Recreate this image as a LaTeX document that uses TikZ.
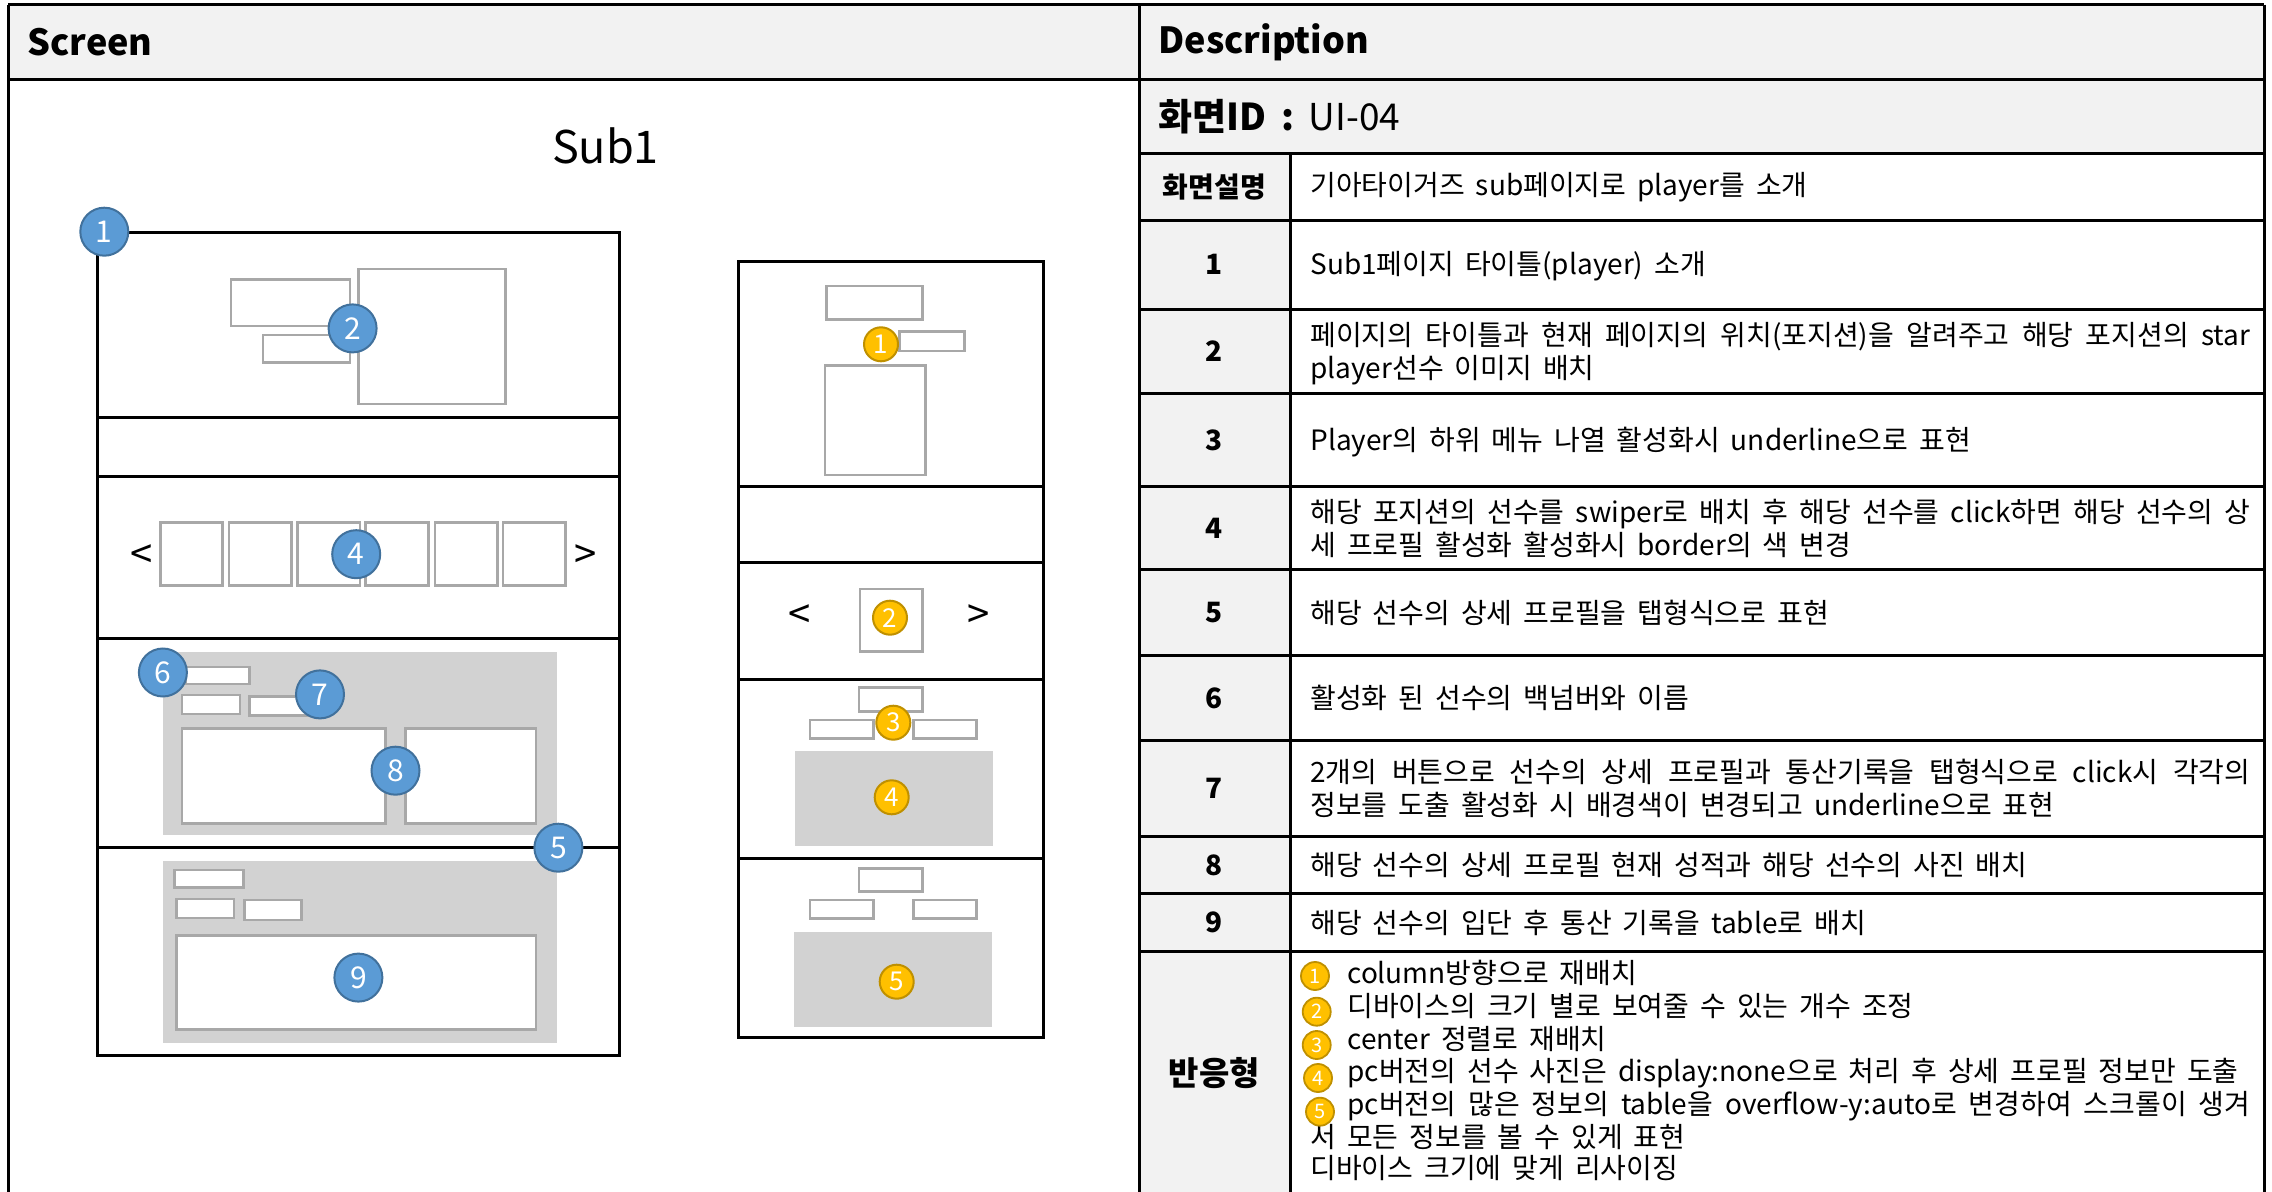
\documentclass[tikz,border=0pt]{standalone}
\usepackage{fontspec}
\setmainfont{Noto Sans CJK KR}[WordSpace=1.75]
\definecolor{hdr}{HTML}{F2F2F2}
\definecolor{boxln}{HTML}{A8A8A8}
\definecolor{panel}{HTML}{D2D2D2}
\definecolor{bluef}{HTML}{5B9BD5}
\definecolor{blued}{HTML}{41719C}
\definecolor{yelf}{HTML}{FFC000}
\definecolor{yeld}{HTML}{BF9000}
\tikzset{
  frame/.style={draw=black,line width=1.5pt},
  gbox/.style={draw=boxln,line width=1.3pt,fill=white},
  gpanel/.style={fill=panel,draw=none},
  tline/.style={draw=black,line width=1.5pt},
  bnum/.style={circle,fill=bluef,draw=blued,line width=1pt,minimum size=24pt,inner sep=0pt,text=white,font=\fontsize{15}{15}\selectfont},
  ynum/.style={circle,fill=yelf,draw=yeld,line width=1pt,minimum size=17pt,inner sep=0pt,text=white,font=\fontsize{13}{13}\selectfont},
  lnum/.style={circle,fill=yelf,draw=yeld,line width=0.9pt,minimum size=14pt,inner sep=0pt,text=white,font=\fontsize{10}{10}\selectfont},
  arrowtxt/.style={inner sep=0pt,font=\fontsize{20}{20}\selectfont},
  hdrtxt/.style={anchor=west,inner sep=0pt,font=\fontsize{18}{18}\selectfont\bfseries},
  lbl/.style={inner sep=0pt,font=\fontsize{14}{14}\selectfont\bfseries},
  body/.style={anchor=west,inner sep=0pt,align=left,font=\fontsize{14}{16.5}\selectfont},
  li/.style={anchor=west,inner sep=0pt,text height=10pt,text depth=3pt,font=\fontsize{14}{16.5}\selectfont},
}
\begin{document}
\begin{tikzpicture}[x=0.5pt,y=-0.5pt]
\useasboundingbox (0,0) rectangle (2272,1192);
% ---------- table fills ----------
\fill[hdr] (8.3,4.6) rectangle (2264,79.5);
\fill[hdr] (1139,79.5) rectangle (2264,153.7);
\fill[hdr] (1139,153.7) rectangle (1290,1192);
% ---------- table lines ----------
\draw[tline] (8.3,4.6) -- (2264,4.6);
\draw[tline] (8.3,79.5) -- (2264,79.5);
\draw[tline] (8.3,4.6) -- (8.3,1192);
\draw[tline] (1139,4.6) -- (1139,1192);
\draw[tline] (2264,4.6) -- (2264,1192);
\draw[tline] (1290,153.7) -- (1290,1192);
\foreach \yy in {153.7,220.3,309.3,393.3,486.7,569.7,655.3,740.5,836.3,893.6,951}
  \draw[tline] (1139,\yy) -- (2264,\yy);
% ---------- headers ----------
\node[hdrtxt] (hscreen) at (27,42) {Screen};
\node[hdrtxt] (hdesc) at (1158,42) {Description};
\node[anchor=west,inner sep=0pt,font=\fontsize{18.5}{18.5}\selectfont] (hid) at (1158,116.6) {\textbf{화면ID :} UI-04};
\node[inner sep=0pt,font=\fontsize{22.5}{22.5}\selectfont] (sub1) at (605.5,146) {Sub1};
% ---------- row labels ----------
\node[lbl] (l0) at (1214.5,187) {화면설명};
\node[lbl] (l1) at (1214.5,264.8) {1};
\node[lbl] (l2) at (1214.5,351.5) {2};
\node[lbl] (l3) at (1214.5,440) {3};
\node[lbl] (l4) at (1214.5,528.2) {4};
\node[lbl] (l5) at (1214.5,612.5) {5};
\node[lbl] (l6) at (1214.5,697.9) {6};
\node[lbl] (l7) at (1214.5,788.4) {7};
\node[lbl] (l8) at (1214.5,865) {8};
\node[lbl] (l9) at (1214.5,922.3) {9};
\node[lbl,font=\fontsize{16.5}{16.5}\selectfont\bfseries] (l10) at (1214.5,1073) {반응형};
% ---------- row texts ----------
\node[body] (t0) at (1310,187) {기아타이거즈 sub페이지로 player를 소개};
\node[body] (t1) at (1310,266) {Sub1페이지 타이틀(player) 소개};
\node[body] (t2) at (1310,354) {\makebox[470pt][s]{페이지의 타이틀과 현재 페이지의 위치(포지션)을 알려주고 해당 포지션의 star}\\player선수 이미지 배치};
\node[body] (t3) at (1310,442) {Player의 하위 메뉴 나열 활성화시 underline으로 표현};
\node[body] (t4) at (1310,528.5) {\makebox[470pt][s]{해당 포지션의 선수를 swiper로 배치 후 해당 선수를 click하면 해당 선수의 상}\\세 프로필 활성화 활성화시 border의 색 변경};
\node[body] (t5) at (1310,612.5) {해당 선수의 상세 프로필을 탭형식으로 표현};
\node[body] (t6) at (1310,697.5) {활성화 된 선수의 백넘버와 이름};
\node[body] (t7) at (1310,788) {\makebox[470pt][s]{2개의 버튼으로 선수의 상세 프로필과 통산기록을 탭형식으로 click시 각각의}\\정보를 도출 활성화 시 배경색이 변경되고 underline으로 표현};
\node[body] (t8) at (1310,865) {해당 선수의 상세 프로필 현재 성적과 해당 선수의 사진 배치};
\node[body] (t9) at (1310,923) {해당 선수의 입단 후 통산 기록을 table로 배치};
% ---------- responsive list ----------
\node[li] (r1) at (1347,976.6) {column방향으로 재배치};
\node[li] (r2) at (1347,1009) {디바이스의 크기 별로 보여줄 수 있는 개수 조정};
\node[li] (r3) at (1347,1042) {center 정렬로 재배치};
\node[li] (r4) at (1347,1074) {pc버전의 선수 사진은 display:none으로 처리 후 상세 프로필 정보만 도출};
\node[li] (r5) at (1347,1107) {\makebox[451.5pt][s]{pc버전의 많은 정보의 table을 overflow-y:auto로 변경하여 스크롤이 생겨}};
\node[li] (r6) at (1310,1140) {서 모든 정보를 볼 수 있게 표현};
\node[li] (r7) at (1310,1171) {디바이스 크기에 맞게 리사이징};
\node[lnum] (c1) at (1315,976) {1};
\node[lnum] (c2) at (1316.7,1011.7) {2};
\node[lnum] (c3) at (1316.7,1045) {3};
\node[lnum] (c4) at (1318,1078) {4};
\node[lnum] (c5) at (1320,1111.7) {5};
% ---------- desktop mockup ----------
\draw[frame] (97.4,232.3) rectangle (619.5,1055);
\draw[frame] (97.4,417.1) -- (619.5,417.1);
\draw[frame] (97.4,476.5) -- (619.5,476.5);
\draw[frame] (97.4,638.9) -- (619.5,638.9);
\draw[frame] (97.4,847.3) -- (619.5,847.3);
% top section
\draw[gbox] (231,279.4) rectangle (350,326);
\draw[gbox] (263,335) rectangle (350,362.4);
\draw[gbox] (358.4,269) rectangle (505.3,404);
% swiper
\foreach \xa/\xb in {160.7/222.5,229/291.5,297.4/360,365.7/428.2,434.8/497.3,503/565.6}
  \draw[gbox] (\xa,522.4) rectangle (\xb,585.5);
\node[arrowtxt] (dlt) at (141.8,557) {<};
\node[arrowtxt] (dgt) at (586,557) {>};
% profile
\fill[gpanel] (162.9,652.1) rectangle (557,834.5);
\draw[gbox] (185.4,666.8) rectangle (249.4,683.8);
\draw[gbox] (181.8,695) rectangle (240,714);
\draw[gbox] (249.4,696.7) rectangle (309,715.5);
\draw[gbox] (181.8,728.4) rectangle (385.3,823.5);
\draw[gbox] (405.7,728.4) rectangle (535.8,823.5);
% record
\fill[gpanel] (162.9,860.5) rectangle (557,1042.5);
\draw[gbox] (174.5,870) rectangle (243.6,887.7);
\draw[gbox] (176.7,899) rectangle (234,918);
\draw[gbox] (244.3,900) rectangle (301.7,919.8);
\draw[gbox] (176.7,935.3) rectangle (535.8,1029.7);
% blue markers
\node[bnum] (b1) at (104.3,231.7) {1};
\node[bnum] (b2) at (352.6,328.4) {2};
\node[bnum] (b4) at (356.2,554.2) {4};
\node[bnum] (b6) at (162.9,672.5) {6};
\node[bnum] (b7) at (320,694.4) {7};
\node[bnum] (b8) at (395.5,770.7) {8};
\node[bnum] (b5) at (558.4,847.7) {5};
\node[bnum] (b9) at (358.4,977.6) {9};
% ---------- mobile mockup ----------
\draw[frame] (738.3,261.7) rectangle (1043.3,1037.7);
\foreach \yy in {486.7,562.7,679.3,858}
  \draw[frame] (738.3,\yy) -- (1043.3,\yy);
\draw[gbox] (826.7,286) rectangle (922.3,319.3);
\draw[gbox] (899.3,331.7) rectangle (964.3,351);
\draw[gbox] (825,365.3) rectangle (925.7,475);
\node[arrowtxt] (mlt) at (799.3,616.5) {<};
\node[arrowtxt] (mgt) at (978.7,616.5) {>};
\draw[gbox] (860,589) rectangle (922.3,651.7);
\draw[gbox] (859,687.7) rectangle (922.3,711.3);
\draw[gbox] (810,720) rectangle (873.3,738.3);
\draw[gbox] (913.3,720) rectangle (976.7,738.3);
\fill[gpanel] (795,751) rectangle (992.7,845.7);
\draw[gbox] (859,868.3) rectangle (922.3,891.7);
\draw[gbox] (810,900) rectangle (873.3,918.3);
\draw[gbox] (913.3,900) rectangle (976.7,918.3);
\fill[gpanel] (794,932) rectangle (992,1026.7);
\node[ynum] (y1) at (881,344.3) {1};
\node[ynum] (y2) at (890,617.7) {2};
\node[ynum] (y3) at (893.3,722.7) {3};
\node[ynum] (y4) at (891.7,797.3) {4};
\node[ynum] (y5) at (896.7,981.7) {5};
\end{tikzpicture}
\end{document}
